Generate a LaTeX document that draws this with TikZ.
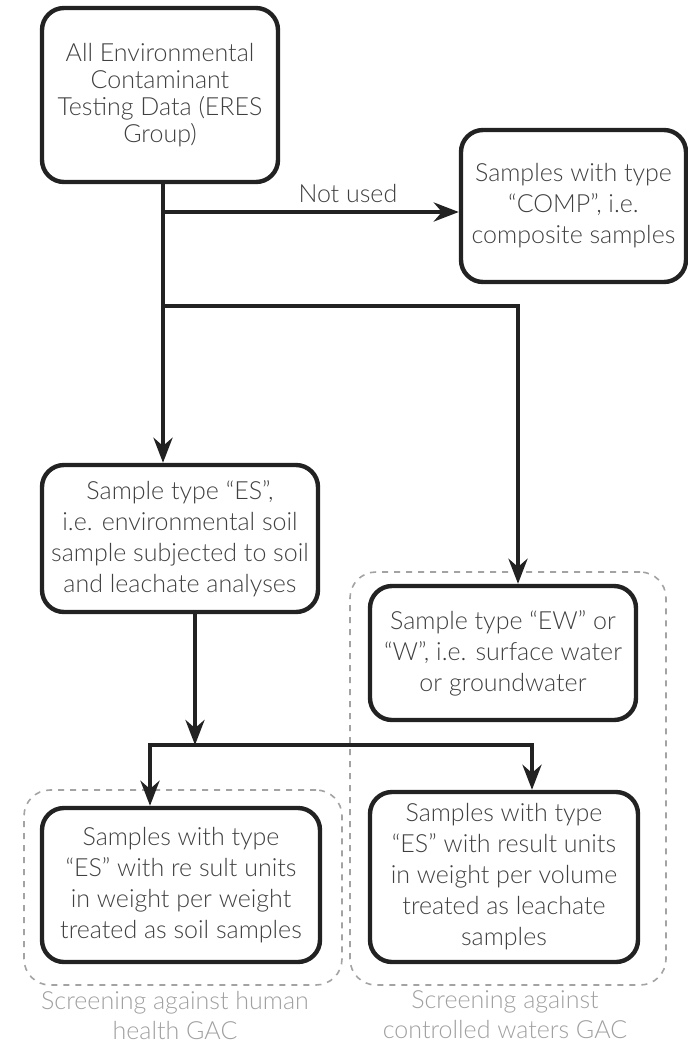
\documentclass[tikz,border=0pt]{standalone}
\usepackage{fontspec}
\setmainfont{Lato Light}
\usetikzlibrary{arrows.meta, positioning}

\definecolor{boxline}{HTML}{222222}
\definecolor{boxtext}{HTML}{404040}
\definecolor{groupline}{HTML}{A3A3A3}
\definecolor{grouptext}{HTML}{A0A0A0}

\begin{document}
\begin{tikzpicture}[x = 0.5pt, y = -0.5pt]
\tikzstyle{BoxStyle}=[draw = boxline, line width = 2.2pt,
                      rounded corners = 11pt, align = center,
                      text = boxtext, inner sep = 0pt,
                      font = \fontsize{12.5}{15.5}\selectfont]
\tikzstyle{GroupStyle}=[draw = groupline, dashed, line width = 0.8pt,
                        rounded corners = 13pt]
\tikzstyle{LabelStyle}=[align = center, text = grouptext,
                        font = \fontsize{12.5}{15}\selectfont]
\tikzstyle{flow}=[draw = boxline, line width = 2.2pt]
\tikzstyle{post}=[flow, -{Stealth[length = 12.5pt, width = 9.5pt]}]
\useasboundingbox (0,0) rectangle (688,1046);
% groups
\node[GroupStyle, minimum width = 159pt, minimum height = 97.5pt] (hhgroup) at (183,887.5) {};
\node[GroupStyle, minimum width = 158pt, minimum height = 206.5pt] (cwgroup) at (508,778.5) {};
% boxes
\node[BoxStyle, minimum width = 118pt, minimum height = 87pt,
      font = \fontsize{12.5}{13.5}\selectfont] (data) at (160,95)
  {All Environmental\\Contaminant\\Testing Data (ERES\\Group)};
\node[BoxStyle, minimum width = 112.5pt, minimum height = 76pt] (comp) at (573.5,206)
  {Samples with type\\“COMP”, i.e.\\composite samples};
\node[BoxStyle, minimum width = 138pt, minimum height = 73.5pt] (es) at (180,538.5)
  {Sample type “ES”,\\i.e. environmental soil\\sample subjected to soil\\and leachate analyses};
\node[BoxStyle, minimum width = 133pt, minimum height = 67pt] (ew) at (503,653)
  {Sample type “EW” or\\“W”, i.e. surface water\\or groundwater};
\node[BoxStyle, minimum width = 139pt, minimum height = 77pt] (soil) at (181,885)
  {Samples with type\\“ES” with re sult units\\in weight per weight\\treated as soil samples};
\node[BoxStyle, minimum width = 134pt, minimum height = 85pt] (leach) at (504,877)
  {Samples with type\\“ES” with result units\\in weight per volume\\treated as leachate\\samples};
% labels
\node[LabelStyle] (hhlabel) at (175,1015) {Screening against human\\health GAC};
\node[LabelStyle] (cwlabel) at (505,1015) {Screening against\\controlled waters GAC};
% connectors
\coordinate (t1) at (163,212);
\coordinate (t2) at (163,306);
\coordinate (t3) at (518,306);
\coordinate (j) at (195,745);
\coordinate (jl) at (150,745);
\coordinate (jr) at (532,745);
\draw[post] (data.south -| t1) -- (es.north -| t1);
\draw[post] (t1) -- node[above, text = boxtext, font = \fontsize{12.5}{15}\selectfont, pos = 0.625] (notused) {Not used} (comp.west |- t1);
\draw[post] (t2) -- (t3) -- (ew.north -| t3);
\draw[post] (es.south -| j) -- (j);
\draw[flow, {Stealth[length = 12.5pt, width = 9.5pt]}-{Stealth[length = 12.5pt, width = 9.5pt]}]
  (soil.north -| jl) -- (jl) -- (jr) -- (leach.north -| jr);
\end{tikzpicture}
\end{document}
